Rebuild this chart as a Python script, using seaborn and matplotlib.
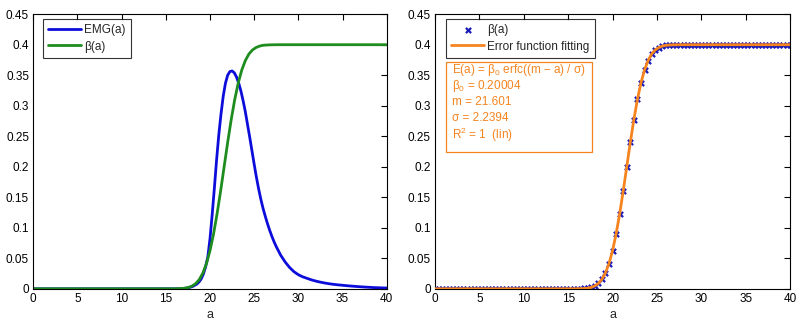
import numpy as np
import pandas as pd
import matplotlib
matplotlib.use("Agg")
import matplotlib.pyplot as plt
from matplotlib.patches import Rectangle
import seaborn as sns

# --- Data ---
a_grid = np.linspace(0, 40, 101)  # sample positions, step 0.4
beta_vals = [
    0.0, 0.0, 0.0, 0.0, 0.0, 0.0, 0.0, 0.0, 0.0, 0.0,
    0.0, 0.0, 0.0, 0.0, 0.0, 0.0, 0.0, 0.0, 0.0, 0.0,
    0.0, 0.0, 0.0, 0.0, 0.0, 0.0, 0.0, 0.0, 0.0, 0.0,
    0.0, 0.0, 0.0, 0.0, 0.0, 0.0, 0.0, 0.0, 0.0, 0.0,
    0.0001, 0.0002, 0.0005, 0.0010, 0.0023, 0.0047, 0.0087, 0.0154, 0.0260, 0.0413,
    0.0625, 0.0897, 0.1227, 0.1601, 0.2000, 0.2399, 0.2773, 0.3103, 0.3375, 0.3587,
    0.3740, 0.3847, 0.3913, 0.3953, 0.3977, 0.3991, 0.3995, 0.3998, 0.3999, 0.4000,
    0.4000, 0.4000, 0.4000, 0.4000, 0.4000, 0.4000, 0.4000, 0.4000, 0.4000, 0.4000,
    0.4000, 0.4000, 0.4000, 0.4000, 0.4000, 0.4000, 0.4000, 0.4000, 0.4000, 0.4000,
    0.4000, 0.4000, 0.4000, 0.4000, 0.4000, 0.4000, 0.4000, 0.4000, 0.4000, 0.4000,
    0.4000,
]

emg_a = [0, 5, 10, 15, 16, 16.5, 17, 17.5, 18, 18.5, 18.75, 19, 19.25, 19.5, 19.75,
         20, 20.25, 20.5, 20.75, 21, 21.25, 21.5, 21.75, 22, 22.25, 22.5, 22.75,
         23, 23.25, 23.5, 23.75, 24, 24.25, 24.5, 24.75, 25, 25.25, 25.5, 25.75,
         26, 26.25, 26.5, 26.75, 27, 27.25, 27.5, 28, 28.5, 29, 29.5, 30, 30.5,
         31, 31.5, 32, 32.5, 33, 33.5, 34, 34.5, 35, 35.5, 36, 36.5, 37, 37.5,
         38, 38.5, 39, 39.5, 40]
emg_vals = [0.0, 0.0, 0.0, 0.0, 0.0, 0.0, 0.0005, 0.0015, 0.0035, 0.0075, 0.011,
            0.016, 0.024, 0.036, 0.052, 0.082, 0.122, 0.166, 0.212, 0.253, 0.287,
            0.316, 0.337, 0.350, 0.356, 0.357, 0.354, 0.347, 0.337, 0.324, 0.308,
            0.290, 0.269, 0.248, 0.226, 0.204, 0.183, 0.164, 0.147, 0.132, 0.119,
            0.107, 0.096, 0.086, 0.077, 0.069, 0.055, 0.044, 0.035, 0.028, 0.023,
            0.0195, 0.017, 0.0145, 0.0125, 0.0108, 0.0094, 0.0082, 0.0072, 0.0064,
            0.0057, 0.0050, 0.0044, 0.0038, 0.0033, 0.0028, 0.0024, 0.0020, 0.0017,
            0.0014, 0.0012]

x_ticks = [0, 5, 10, 15, 20, 25, 30, 35, 40]
y_ticks = [0, 0.05, 0.1, 0.15, 0.2, 0.25, 0.3, 0.35, 0.4, 0.45]
y_ticklabels = ["0", "0.05", "0.1", "0.15", "0.2", "0.25", "0.3", "0.35", "0.4", "0.45"]

fit_text = ["E(a) = β$_0$ erfc((m − a) / σ)",
            "β$_0$ = 0.20004",
            "m = 21.601",
            "σ = 2.2394",
            "R$^2$ = 1  (lin)"]

blue = "#0d0ddb"
green = "#1e8c1e"
orange = "#f5841f"
marker_blue = "#1a1ab8"

beta_df = pd.DataFrame({"a": a_grid, "beta": beta_vals})
emg_df = pd.DataFrame({"a": emg_a, "emg": emg_vals})

# --- Style ---
sns.set_theme(style="white")
plt.rcParams["font.family"] = ["Liberation Sans", "DejaVu Sans"]
plt.rcParams["mathtext.default"] = "regular"
plt.rcParams["font.size"] = 8.5

fig = plt.figure(figsize=(8, 3.23), dpi=100)
ax1 = fig.add_axes([0.0416, 0.106, 0.4418, 0.85])
ax2 = fig.add_axes([0.5438, 0.106, 0.4438, 0.85])

# --- Left panel ---
sns.lineplot(data=emg_df, x="a", y="emg", ax=ax1, color=blue, lw=2, label="EMG(a)")
sns.lineplot(data=beta_df, x="a", y="beta", ax=ax1, color=green, lw=2, label="β(a)")

# --- Right panel ---
sns.scatterplot(data=beta_df, x="a", y="beta", ax=ax2, color=marker_blue, marker="x",
                s=14, linewidth=1.6, label="β(a)", zorder=2)
sns.lineplot(data=beta_df, x="a", y="beta", ax=ax2, color=orange, lw=2.0,
             label="Error function fitting", zorder=3)

for ax in (ax1, ax2):
    ax.set_xlim(0, 40)
    ax.set_ylim(0, 0.45)
    ax.set_xticks(x_ticks)
    ax.set_xticklabels([str(t) for t in x_ticks])
    ax.set_yticks(y_ticks)
    ax.set_yticklabels(y_ticklabels)
    ax.set_xlabel("a", fontsize=9, labelpad=3)
    ax.set_ylabel("")
    ax.tick_params(direction="in", length=4, width=0.8, top=True, right=True,
                   labelsize=8.5, colors="black", pad=3)
    for sp in ax.spines.values():
        sp.set_color("black")
        sp.set_linewidth(0.8)

legend_kw = dict(loc="upper left", frameon=True, fancybox=False, edgecolor="black",
                 fontsize=8.5, handlelength=2.8, handletextpad=0.25, borderpad=0.45,
                 labelspacing=0.35, borderaxespad=0)
leg1 = ax1.legend(bbox_to_anchor=(0.027, 0.982), **legend_kw)
leg1.get_frame().set_linewidth(0.8)
leg2 = ax2.legend(bbox_to_anchor=(0.030, 0.982), **legend_kw)
leg2.get_frame().set_linewidth(0.8)

# fit annotation box
ax2.add_patch(Rectangle((0.030, 0.497), 0.411, 0.330, transform=ax2.transAxes,
                        facecolor="white", edgecolor=orange, lw=0.9, zorder=4))
row_y = [0.797, 0.738, 0.680, 0.621, 0.562]
for txt, yy in zip(fit_text, row_y):
    ax2.text(0.047, yy, txt, transform=ax2.transAxes, ha="left", va="center",
             color=orange, fontsize=8.5, zorder=5)

fig.savefig("out.png", dpi=100)
